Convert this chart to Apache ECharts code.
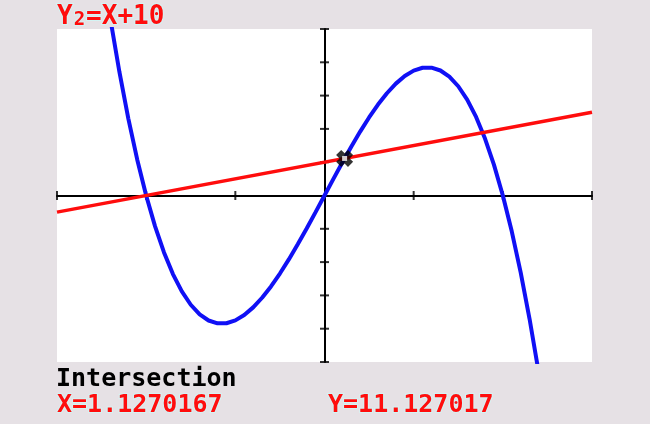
<!DOCTYPE html>
<html><head><meta charset="utf-8">
<script src="https://cdn.jsdelivr.net/npm/echarts@6/dist/echarts.min.js"></script>
<style>html,body{margin:0;padding:0;background:#e6e1e5;}#c{width:650px;height:424px;}</style>
</head><body><div id="c"></div>
<script>
const y1X = [-12,-11.5,-11,-10.5,-10,-9.5,-9,-8.5,-8,-7.5,-7,-6.5,-6,-5.5,-5,-4.5,-4,-3.5,-3,-2.5,-2,-1.5,-1,-0.5,0,
             0.5,1,1.5,2,2.5,3,3.5,4,4.5,5,5.5,6,6.5,7,7.5,8,8.5,9,9.5,10,10.5,11,11.5,12];
const y1Y = [52.8,37.09,23.1,10.76,0,-9.26,-17.1,-23.59,-28.8,-32.81,-35.7,-37.54,-38.4,-38.36,-37.5,-35.89,-33.6,-30.71,-27.3,-23.44,-19.2,-14.66,-9.9,-4.99,0,
             4.99,9.9,14.66,19.2,23.44,27.3,30.71,33.6,35.89,37.5,38.36,38.4,37.54,35.7,32.81,28.8,23.59,17.1,9.26,0,-10.76,-23.1,-37.09,-52.8];
// Y2 = X + 10 (red line)
const y2X = [-15, 15];
const y2Y = [-5, 25];
// intersection cursor
const cursorPt = [1.1270167, 11.127017];
// window and ticks
const xMin = -15, xMax = 15, yMin = -50, yMax = 50;
const xTicks = [-15,-10,-5,5,10,15];
const yTicks = [-50,-40,-30,-20,-10,10,20,30,40,50];
// texts
const eqLabel = ['Y', '2', '=X+10'];
const msgText = 'Intersection';
const xText = 'X=1.1270167';
const yText = 'Y=11.127017';

const chart = echarts.init(document.getElementById('c'), null, {renderer:'canvas'});
const zip = (a,b) => a.map((v,i)=>[v,b[i]]);
const FONT = '"DejaVu Sans Mono", monospace';
const red = '#ff0d0d', blue = '#1010f5';
const halo = {stroke:'#d4f4f4', lineWidth:2};

chart.setOption({
  backgroundColor:'#e6e1e5',
  animation:false,
  grid:{left:57, right:58, top:29, bottom:62, show:true, backgroundColor:'#ffffff', borderWidth:0},
  xAxis:{type:'value', min:xMin, max:xMax, interval:5,
    axisLine:{onZero:true, lineStyle:{color:'#000', width:2}},
    axisTick:{show:false}, axisLabel:{show:false}, splitLine:{show:false}},
  yAxis:{type:'value', min:yMin, max:yMax, interval:10,
    axisLine:{onZero:true, lineStyle:{color:'#000', width:2}},
    axisTick:{show:false}, axisLabel:{show:false}, splitLine:{show:false}},
  series:[
    {type:'scatter', data:xTicks.map(v=>[v,0]), symbol:'rect', symbolSize:[2,9], clip:false,
     itemStyle:{color:'#000'}, silent:true, z:1},
    {type:'scatter', data:yTicks.map(v=>[0,v]), symbol:'rect', symbolSize:[9,2], clip:false,
     itemStyle:{color:'#000'}, silent:true, z:1},
    {type:'line', data:zip(y1X,y1Y), showSymbol:false, clip:true,
     lineStyle:{color:blue, width:4}, z:3},
    {type:'line', data:zip(y2X,y2Y), showSymbol:false, clip:true,
     lineStyle:{color:red, width:3.5}, z:4},
    {type:'scatter', data:[cursorPt], symbol:'path://M0,3 L3,0 L5,2 L7,0 L10,3 L8,5 L10,7 L7,10 L5,8 L3,10 L0,7 L2,5 Z',
     symbolSize:17, itemStyle:{color:'#000'}, z:5},
    {type:'scatter', data:[cursorPt], symbol:'rect', symbolSize:5, itemStyle:{color:'#fff'}, z:6}
  ],
  graphic:[
    {type:'text', left:56, top:3, z:10, style:{
      text:'{a|'+eqLabel[0]+'}{s|'+eqLabel[1]+'}{a|'+eqLabel[2]+'}',
      rich:{a:{fontSize:26, fontWeight:'bold', fontFamily:FONT, fill:red, ...halo},
            s:{fontSize:19, fontWeight:'bold', fontFamily:FONT, fill:red, ...halo, padding:[6,1,0,1]}},
      }},
    {type:'text', left:56, top:367, z:10, style:{text:msgText, fontSize:25, fontWeight:'bold', fontFamily:FONT, fill:'#000'}},
    {type:'text', left:56, top:392, z:10, style:{text:xText, fontSize:25, fontWeight:'bold', fontFamily:FONT, fill:red, ...halo}},
    {type:'text', left:327, top:392, z:10, style:{text:yText, fontSize:25, fontWeight:'bold', fontFamily:FONT, fill:red, ...halo}}
  ]
});
</script></body></html>
